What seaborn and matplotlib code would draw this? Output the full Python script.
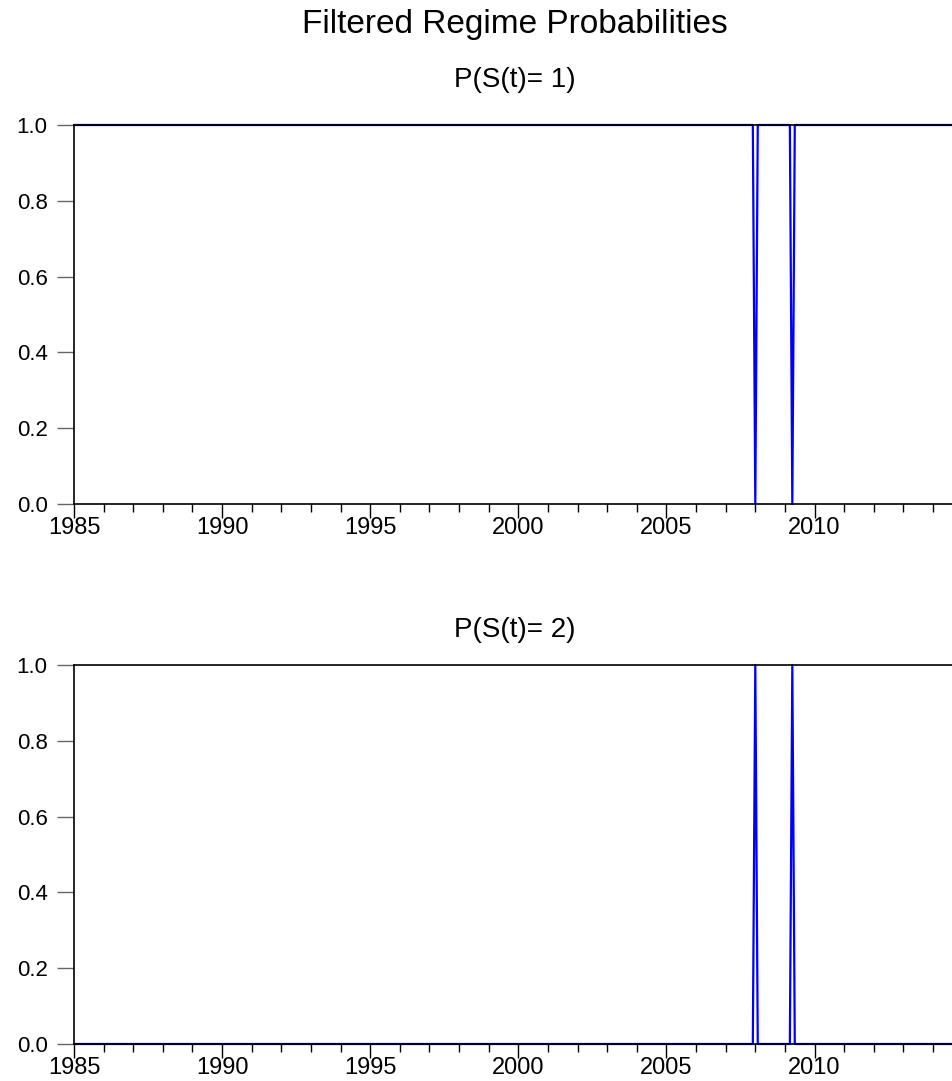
import numpy as np
import matplotlib
matplotlib.use("Agg")
import matplotlib.pyplot as plt
from matplotlib.ticker import MultipleLocator, FormatStrFormatter
import pandas as pd
import seaborn as sns

# monthly sample, filtered probabilities of regime 2
sample_start = "1985-01"
sample_end = "2014-12"
regime2_months = ["2008-01", "2009-04"]          # P(S(t)=2) = 1, else ~0

titles = ["P(S(t)= 1)", "P(S(t)= 2)"]
main_title = "Filtered Regime Probabilities"
year_ticks = [1985, 1990, 1995, 2000, 2005, 2010]

months = pd.period_range(sample_start, sample_end, freq="M")
p2 = pd.Series(0.0, index=months)
for m in regime2_months:
    p2[pd.Period(m, "M")] = 1.0
p1 = 1.0 - p2

df = pd.DataFrame({
    "t": months.year + (months.month - 1) / 12.0,
    "p1": p1.values,
    "p2": p2.values,
})

sns.set_style("ticks")
plt.rcParams["font.family"] = ["Liberation Sans", "DejaVu Sans"]
plt.rcParams["text.color"] = "black"
plt.rcParams["xtick.color"] = "black"
plt.rcParams["ytick.color"] = "black"

W, H = 952, 1081
fig = plt.figure(figsize=(W / 100, H / 100), dpi=100)

left = 74 / W
panels = [(125, 504), (665, 1044)]
cols = ["p1", "p2"]
title_base = [87, 637]

for (top, bot), col, ttl, tb in zip(panels, cols, titles, title_base):
    ax = fig.add_axes([left, 1 - bot / H, 1 - left + 0.01, (bot - top) / H])
    sns.lineplot(data=df, x="t", y=col, ax=ax, color="#0000ff",
                 linewidth=1.6, clip_on=False)
    ax.set_xlim(1985, 1985 + (W - 74) / 29.6 + 0.3)
    ax.set_ylim(0, 1)
    ax.set_xlabel("")
    ax.set_ylabel("")
    ax.set_xticks(year_ticks)
    ax.xaxis.set_minor_locator(MultipleLocator(1))
    ax.yaxis.set_major_locator(MultipleLocator(0.2))
    ax.yaxis.set_major_formatter(FormatStrFormatter("%.1f"))
    ax.tick_params(axis="x", which="major", direction="out", length=10,
                   width=1, color="black", labelsize=17, pad=-1,
                   labelcolor="black", bottom=True)
    ax.tick_params(axis="x", which="minor", direction="out", length=6,
                   width=1, color="black", bottom=True)
    ax.tick_params(axis="y", which="major", direction="out", length=12,
                   width=1, color="#666666", labelsize=16, pad=7,
                   labelcolor="black", left=True)
    for s in ["left", "bottom", "top"]:
        ax.spines[s].set_color("black")
        ax.spines[s].set_linewidth(1.2)
        ax.spines[s].set_visible(True)
    ax.spines["right"].set_visible(False)
    fig.text(515 / W, 1 - tb / H, ttl, ha="center", va="baseline",
             fontsize=20, color="black")

fig.text(515 / W, 1 - 33 / H, main_title, ha="center", va="baseline",
         fontsize=24, color="black")

fig.savefig("out.png", dpi=100)
